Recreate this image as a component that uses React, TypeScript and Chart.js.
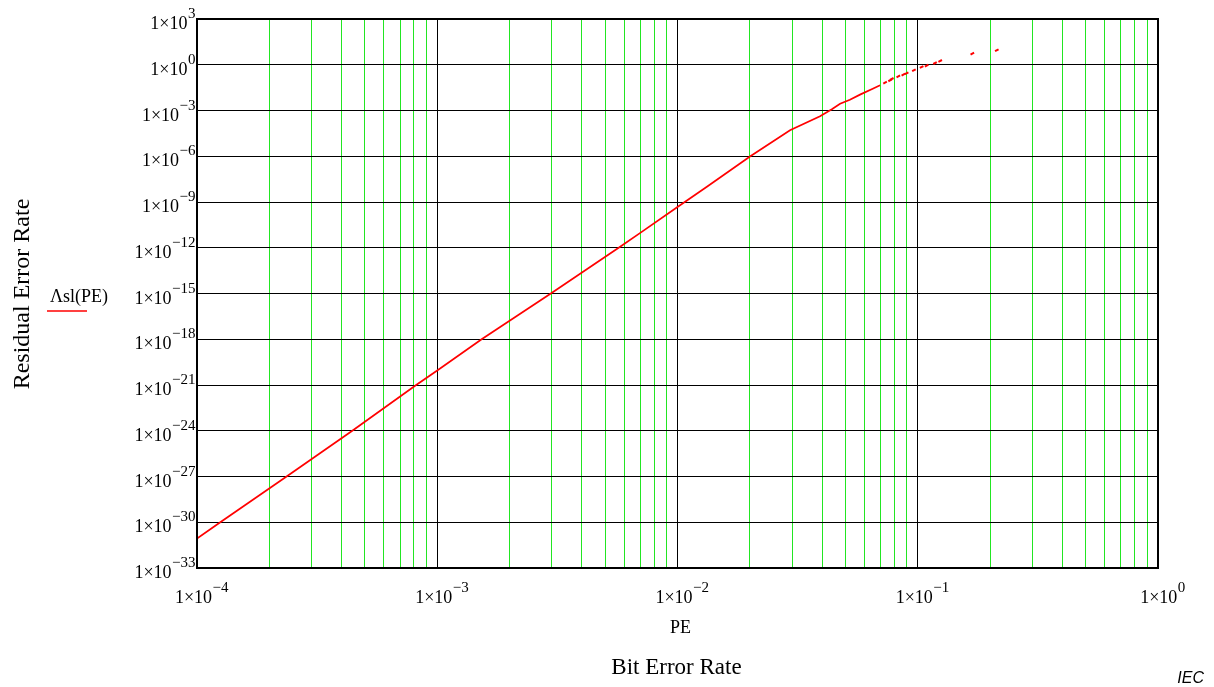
import { useEffect, useRef } from "react";
import { Chart, registerables } from "chart.js";

Chart.register(...registerables);

// Continuous part of the curve: bit error rate PE vs residual error rate Λsl(PE)
const PE_VALUES = [
  1e-4, 1.25e-4, 2.36e-4, 4.43e-4, 8.17e-4, 1e-3, 1.53e-3, 2.97e-3, 5.69e-3, 7.0e-3,
  1e-2, 1.33e-2, 2.01e-2, 2.94e-2, 3.92e-2, 4.39e-2, 4.75e-2, 5.22e-2, 5.75e-2, 6.53e-2, 6.97e-2,
];
const RESIDUAL_VALUES = [
  8.5e-32, 1e-30, 1e-27, 1e-24, 1e-21, 9e-21, 1e-18, 1e-15, 1e-12, 9.5e-12,
  4.7e-10, 1.05e-8, 1e-6, 5.0e-5, 4.2e-4, 1.2e-3, 2.8e-3, 5.1e-3, 1.1e-2, 2.75e-2, 4.5e-2,
];

// Sparse (dashed) tail of the curve
const PE_TAIL = [
  0.0731, 0.0767, 0.078, 0.083, 0.0871, 0.0899, 0.0964, 0.1038, 0.1089, 0.118, 0.124, 0.1687, 0.2133,
];
const RESIDUAL_TAIL = [
  0.0676, 0.0955, 0.1175, 0.174, 0.224, 0.275, 0.437, 0.708, 0.871, 1.29, 1.78, 5.37, 8.91,
];

// Axes
const X_DECADES = [1e-4, 1e-3, 1e-2, 1e-1];
const X_MULTIPLIERS = [1, 2, 3, 4, 5, 6, 7, 8, 9];
const X_LABEL_EXPONENTS = [-4, -3, -2, -1, 0];
const Y_LABEL_EXPONENTS = [3, 0, -3, -6, -9, -12, -15, -18, -21, -24, -27, -30, -33];

const LEGEND_LABEL = "Λsl(PE)";
const X_TITLE = "PE";
const X_SUBTITLE = "Bit Error Rate";
const Y_TITLE = "Residual Error Rate";
const WATERMARK = "IEC";

const SERIF = '"Liberation Serif", "Times New Roman", Times, serif';
const SANS = '"Liberation Sans", Arial, sans-serif';

function drawPower(
  ctx: CanvasRenderingContext2D,
  exp: number,
  anchorX: number,
  baseline: number,
  align: "right" | "center"
) {
  const main = "1×10";
  const sup = exp < 0 ? "−" + Math.abs(exp) : String(exp);
  ctx.font = `18px ${SERIF}`;
  const wMain = ctx.measureText(main).width;
  ctx.font = `15px ${SERIF}`;
  const wSup = ctx.measureText(sup).width;
  const total = wMain + wSup;
  const startX = align === "right" ? anchorX - total : anchorX - total / 2;
  ctx.textAlign = "left";
  ctx.textBaseline = "alphabetic";
  ctx.fillStyle = "#000";
  ctx.font = `18px ${SERIF}`;
  ctx.fillText(main, startX, baseline);
  ctx.font = `15px ${SERIF}`;
  ctx.fillText(sup, startX + wMain + 0.5, baseline - 11);
}

const decorPlugin = {
  id: "decor",
  afterDraw(chart: any) {
    const ctx: CanvasRenderingContext2D = chart.ctx;
    const area = chart.chartArea;
    const xs = chart.scales.x;
    const ys = chart.scales.y;
    ctx.save();
    // frame
    ctx.strokeStyle = "#000";
    ctx.lineWidth = 2;
    ctx.strokeRect(area.left, area.top, area.right - area.left, area.bottom - area.top);

    // y tick labels
    for (const e of Y_LABEL_EXPONENTS) {
      const py = ys.getPixelForValue(Number("1e" + e));
      drawPower(ctx, e, 195, py + 10, "right");
    }
    // x tick labels
    for (const e of X_LABEL_EXPONENTS) {
      const px = xs.getPixelForValue(Number("1e" + e));
      drawPower(ctx, e, px + 4.5, area.bottom + 35, "center");
    }

    // axis titles
    ctx.fillStyle = "#000";
    ctx.textAlign = "center";
    ctx.textBaseline = "alphabetic";
    ctx.font = `18px ${SERIF}`;
    const cx = (area.left + area.right) / 2;
    ctx.fillText(X_TITLE, cx + 3, area.bottom + 65);
    ctx.font = `23px ${SERIF}`;
    ctx.fillText(X_SUBTITLE, cx - 1, area.bottom + 106);

    ctx.save();
    ctx.translate(23, 294);
    ctx.rotate(-Math.PI / 2);
    ctx.font = `24px ${SERIF}`;
    ctx.textBaseline = "middle";
    ctx.fillText(Y_TITLE, 0, 0);
    ctx.restore();

    // legend
    ctx.textAlign = "left";
    ctx.textBaseline = "alphabetic";
    ctx.font = `18px ${SERIF}`;
    ctx.fillText(LEGEND_LABEL, 50, 302);
    ctx.strokeStyle = "#ff0000";
    ctx.lineWidth = 1.5;
    ctx.beginPath();
    ctx.moveTo(47, 311);
    ctx.lineTo(87, 311);
    ctx.stroke();

    // watermark
    ctx.fillStyle = "#000";
    ctx.textAlign = "right";
    ctx.font = `italic 16px ${SANS}`;
    ctx.fillText(WATERMARK, 1204, 683);
    ctx.restore();
  },
};

export default function App() {
  const canvasRef = useRef<HTMLCanvasElement | null>(null);

  useEffect(() => {
    if (!canvasRef.current) return;
    const chart = new Chart(canvasRef.current, {
      type: "line",
      data: {
        datasets: [
          {
            label: LEGEND_LABEL,
            data: PE_VALUES.map((x, i) => ({ x, y: RESIDUAL_VALUES[i] })),
            borderColor: "#ff0000",
            backgroundColor: "#ff0000",
            borderWidth: 1.7,
            pointRadius: 0,
            tension: 0,
            fill: false,
          },
          {
            label: "tail",
            data: PE_TAIL.map((x, i) => ({ x, y: RESIDUAL_TAIL[i] })),
            showLine: false,
            borderColor: "#ff0000",
            backgroundColor: "#ff0000",
            pointStyle: "line",
            pointRotation: -28,
            pointRadius: 2,
            pointBorderWidth: 2,
            pointHoverRadius: 2,
          },
        ],
      },
      options: {
        responsive: false,
        animation: false,
        devicePixelRatio: 1,
        events: [],
        layout: { padding: { left: 197, right: 56, top: 19, bottom: 119 } },
        plugins: { legend: { display: false }, tooltip: { enabled: false }, title: { display: false } },
        scales: {
          x: {
            type: "logarithmic",
            min: 1e-4,
            max: 1,
            ticks: { display: false },
            border: { display: false },
            grid: {
              drawTicks: false,
              lineWidth: 1,
              color: (c: any) => (c.tick && c.tick.major ? "#000000" : "#22e622"),
            },
            afterBuildTicks: (scale: any) => {
              const ticks: any[] = [];
              for (const d of X_DECADES) {
                for (const m of X_MULTIPLIERS) ticks.push({ value: m * d, major: m === 1 });
              }
              ticks.push({ value: 1, major: true });
              scale.ticks = ticks;
            },
            afterFit: (scale: any) => {
              scale.height = 0;
            },
          },
          y: {
            type: "logarithmic",
            min: 1e-33,
            max: 1e3,
            ticks: { display: false },
            border: { display: false },
            grid: { drawTicks: false, lineWidth: 1, color: "#000000" },
            afterBuildTicks: (scale: any) => {
              scale.ticks = Y_LABEL_EXPONENTS.map((e) => ({ value: Number("1e" + e), major: true }));
            },
            afterFit: (scale: any) => {
              scale.width = 0;
            },
          },
        },
      },
      plugins: [decorPlugin],
    } as any);
    return () => chart.destroy();
  }, []);

  return (
    <div style={{ position: "fixed", left: 0, top: 0, width: 1214, height: 687, background: "#fff" }}>
      <canvas ref={canvasRef} width={1214} height={687} style={{ display: "block" }} />
    </div>
  );
}
